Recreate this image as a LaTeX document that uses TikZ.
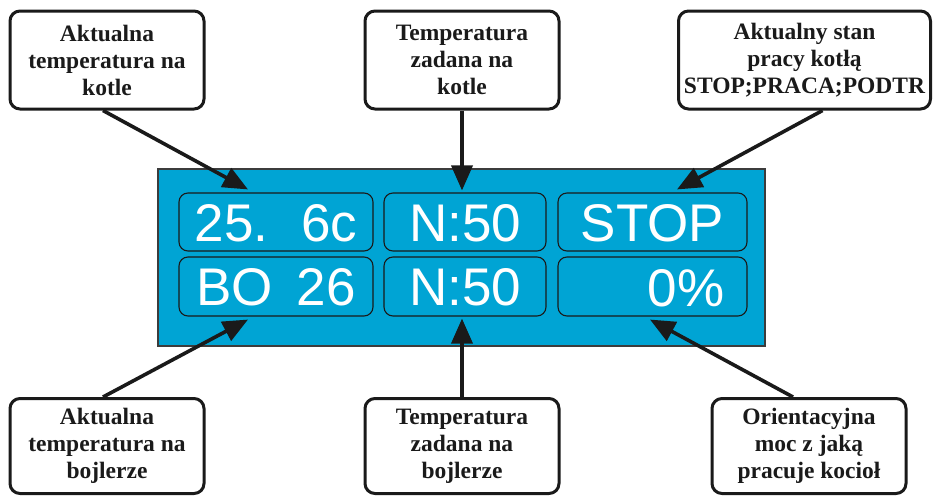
\documentclass[tikz,border=0pt]{standalone}
\usepackage{fontspec}
\setmainfont{Liberation Serif}
\setsansfont{Liberation Sans}
\usetikzlibrary{arrows.meta,calc}
\definecolor{panelblue}{RGB}{0,164,212}
\definecolor{ink}{RGB}{26,26,26}
\begin{document}
\begin{tikzpicture}[x=1pt,y=-1pt,
  callout/.style={draw=ink, line width=3pt, rounded corners=10pt, fill=white, align=center,
    inner sep=0pt, font=\fontsize{23.5}{27}\selectfont\bfseries, text=ink},
  lcd/.style={draw=ink, line width=1.1pt, rounded corners=9pt, fill=panelblue, inner sep=0pt},
  lcdtext/.style={text=white, font=\sffamily\fontsize{53}{60}\selectfont, inner sep=0pt},
  pointer/.style={draw=ink, line width=3.6pt, -{Triangle[length=25pt,width=21pt]}}]
\useasboundingbox (0,0) rectangle (934,496);
% display panel
\node[draw=ink!85, line width=1.2pt, fill=panelblue, minimum width=607pt, minimum height=177pt, inner sep=0pt] (panel) at (461.5,257.5) {};
\node[lcd, minimum width=194pt, minimum height=58pt] (b1) at (276,222) {};
\node[lcd, minimum width=162pt, minimum height=58pt] (b2) at (465,222) {};
\node[lcd, minimum width=189pt, minimum height=58pt] (b3) at (652.5,222) {};
\node[lcd, minimum width=194pt, minimum height=59pt] (b4) at (276,286.5) {};
\node[lcd, minimum width=162pt, minimum height=59pt] (b5) at (465,286.5) {};
\node[lcd, minimum width=189pt, minimum height=59pt] (b6) at (652.5,286.5) {};
\node[lcdtext] (t1) at ([yshift=-1pt]b1.center) {25.\hspace{0.62em}6c};
\node[lcdtext] (t2) at ([yshift=-1pt]b2.center) {N:50};
\node[lcdtext] (t3) at ([yshift=-1pt]b3.center) {STOP};
\node[lcdtext] (t4) at ([yshift=-1pt]b4.center) {BO\hspace{0.45em}26};
\node[lcdtext] (t5) at ([yshift=-1pt]b5.center) {N:50};
\node[lcdtext, anchor=east] (t6) at ([xshift=-23pt,yshift=-1.5pt]b6.east) {0\%};
% callouts
\node[callout, minimum width=194pt, minimum height=98pt] (c1) at (107,60) {Aktualna\\temperatura na\\kotle};
\node[callout, minimum width=194pt, minimum height=98pt] (c2) at (462,60) {Temperatura\\zadana na\\kotle};
\node[callout, minimum width=252pt, minimum height=98pt] (c3) at (804.5,60) {Aktualny stan\\pracy kotłą\\STOP;PRACA;PODTR};
\node[callout, minimum width=194pt, minimum height=95pt] (c4) at (107,446) {Aktualna\\temperatura na\\bojlerze};
\node[callout, minimum width=194pt, minimum height=95pt] (c5) at (462,446) {Temperatura\\zadana na\\bojlerze};
\node[callout, minimum width=194pt, minimum height=95pt] (c6) at (809,446) {Orientacyjna\\moc z jaką\\pracuje kocioł};
% pointers
\draw[pointer] ([xshift=-4pt]c1.south) -- ([xshift=-28pt,yshift=3pt]b1.north);
\draw[pointer] (c2.south) -- ($(c2.south |- b2.north)+(0,-2)$);
\draw[pointer] ([xshift=18pt]c3.south) -- ([xshift=24.5pt,yshift=3pt]b3.north);
\draw[pointer] ([xshift=-4pt]c4.north) -- ([xshift=-28pt,yshift=-3pt]b4.south);
\draw[pointer] (c5.north) -- ($(c5.north |- b5.south)+(0,2)$);
\draw[pointer] ([xshift=-16pt]c6.north) -- ([xshift=-2.5pt,yshift=-3pt]b6.south);
\end{tikzpicture}
\end{document}
